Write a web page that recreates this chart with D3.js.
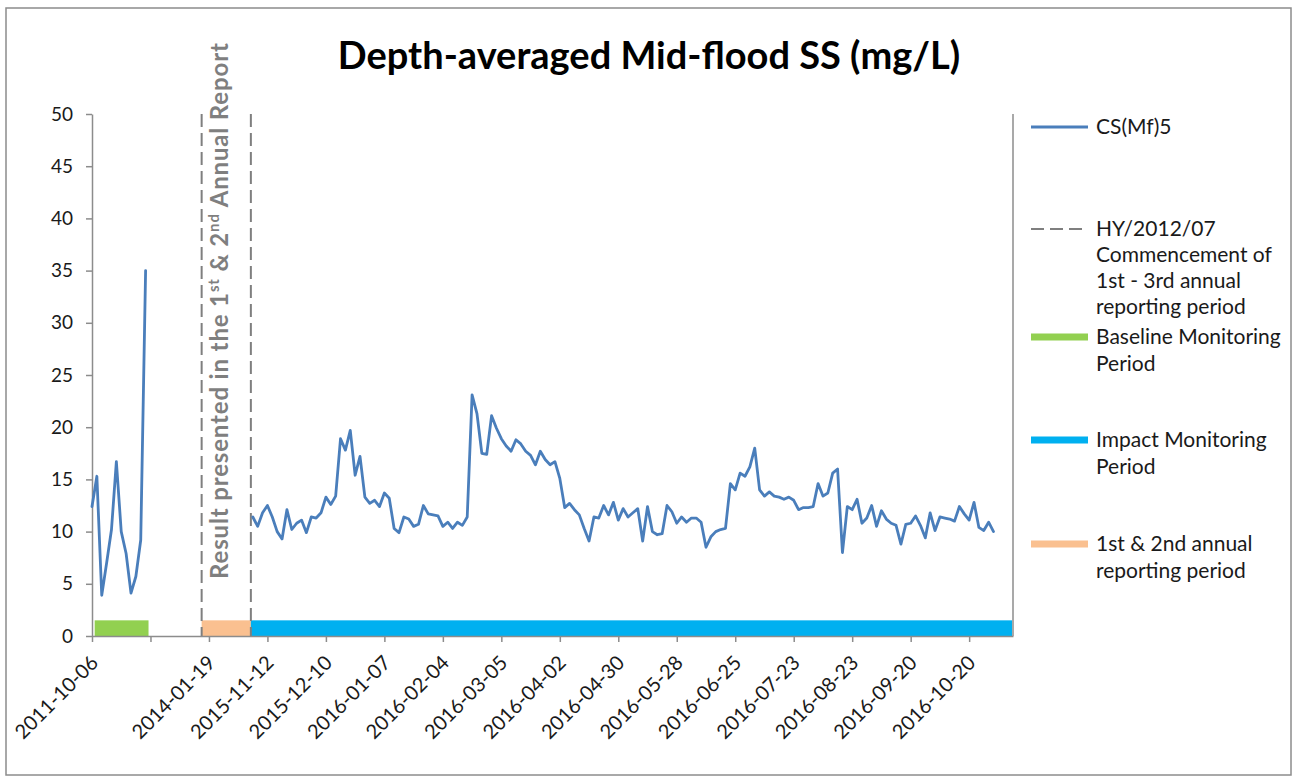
<!DOCTYPE html>
<html><head><meta charset="utf-8">
<script src="https://cdn.jsdelivr.net/npm/d3@7/dist/d3.min.js"></script>
<style>
html,body{margin:0;padding:0;background:#fff;}
svg{display:block;font-family:Lato,"Open Sans",sans-serif;}
</style></head><body>
<svg id="chart" width="1295" height="780"></svg>
<script>
// ---------------- DATA ----------------
const chartTitle = "Depth-averaged Mid-flood SS (mg/L)";
const seriesName = "CS(Mf)5";
// baseline monitoring samples (category index 0..11)
const baselineStart = 0;
const baselineValues = [12.4, 15.3, 3.9, 7.0, 10.2, 16.7, 10.0, 7.9, 4.1, 5.7, 9.2, 35.0];
// impact monitoring samples (category index 33..185)
const impactStart = 33;
const impactValues = [
  11.4, 10.5, 11.8, 12.5, 11.4, 10.0, 9.3, 12.1, 10.2, 10.8, 11.1, 9.9, 11.4, 11.3, 11.8, 13.3, 12.6, 13.4, 18.9, 17.8,
  19.7, 15.4, 17.2, 13.3, 12.7, 13.0, 12.4, 13.7, 13.2, 10.3, 9.9, 11.4, 11.2, 10.5, 10.7, 12.5, 11.7, 11.6, 11.5, 10.5,
  10.9, 10.3, 10.9, 10.6, 11.4, 23.1, 21.3, 17.5, 17.4, 21.1, 19.9, 18.9,
  18.2, 17.7, 18.8, 18.4, 17.7, 17.3, 16.4, 17.7, 16.9, 16.4, 16.7, 15.1, 12.3, 12.7, 12.1, 11.6, 10.3, 9.1, 11.4, 11.3,
  12.5, 11.6, 12.8, 11.1, 12.2, 11.4, 11.8, 12.2, 9.1, 12.4, 10.0, 9.7, 9.8, 12.5, 11.9, 10.8, 11.4, 10.9, 11.3, 11.3,
  10.9, 8.5, 9.5,
  10.0, 10.2, 10.3, 14.6, 14.0, 15.6, 15.3, 16.2, 18.0, 14.0, 13.4, 13.8, 13.4, 13.3, 13.1, 13.3, 13.0, 12.1, 12.3, 12.3,
  12.4, 14.6, 13.4, 13.7, 15.6, 16.0, 8.0, 12.4, 12.1, 13.1, 10.8,
  11.3, 12.5, 10.5, 12.0, 11.2, 10.8, 10.6, 8.8, 10.7, 10.8, 11.5, 10.6, 9.4, 11.8, 10.1, 11.4, 11.3, 11.2, 11.0, 12.4,
  11.7, 11.1, 12.8, 10.4, 10.1, 10.9, 10.0
];
const categoryCount = 189;
const tickIndex = [0, 12, 24, 36, 48, 60, 72, 84, 96, 108, 120, 132, 144, 156, 168, 180];
const tickLabels = ["2011-10-06", "", "2014-01-19", "2015-11-12", "2015-12-10", "2016-01-07", "2016-02-04", "2016-03-05",
  "2016-04-02", "2016-04-30", "2016-05-28", "2016-06-25", "2016-07-23", "2016-08-23", "2016-09-20", "2016-10-20"];
const yTicks = [0, 5, 10, 15, 20, 25, 30, 35, 40, 45, 50];
const yMax = 50;
// period bars (category positions) and their height in mg/L
const periodKeys = ["baseline", "annual12", "impact"];
const periodFrom = [0.55, 22.5, 32.6];
const periodTo = [11.6, 32.6, 188.8];
const periodLevel = 1.5;
// HY/2012/07 commencement markers (category positions)
const markerPositions = [22.5, 32.6];
const legendLabels = [
  ["CS(Mf)5"],
  ["HY/2012/07", "Commencement of", "1st - 3rd annual", "reporting period"],
  ["Baseline Monitoring", "Period"],
  ["Impact Monitoring", "Period"],
  ["1st & 2nd annual", "reporting period"]
];
const legendKeys = ["series", "marker", "baseline", "impact", "annual12"];

// ---------------- STYLE ----------------
const colors = {series: "#4a7ebb", marker: "#7f7f7f", baseline: "#92d050", impact: "#00b0f0", annual12: "#fac090"};
const axisColor = "#8c8c8c";
const textColor = "#1a1a1a";

// ---------------- LAYOUT ----------------
const svg = d3.select("#chart");
const plot = {left: 92, right: 1013, top: 114, bottom: 636};
const x = d3.scaleLinear().domain([0, categoryCount]).range([plot.left, plot.right]);
const y = d3.scaleLinear().domain([0, yMax]).range([plot.bottom, plot.top]);

// outer border
svg.append("rect").attr("x", 6).attr("y", 8).attr("width", 1285).attr("height", 767)
  .attr("fill", "none").attr("stroke", axisColor).attr("stroke-width", 1.5);

// title
svg.append("text").attr("x", 649).attr("y", 69).attr("text-anchor", "middle")
  .attr("font-size", 38).attr("font-weight", "bold").attr("fill", "#000").text(chartTitle);

// period bars
svg.append("g").selectAll("rect").data(periodKeys).join("rect")
  .attr("x", (d, i) => x(periodFrom[i]))
  .attr("width", (d, i) => x(periodTo[i]) - x(periodFrom[i]))
  .attr("y", y(periodLevel))
  .attr("height", y(0) - y(periodLevel))
  .attr("fill", d => colors[d]);

// dashed markers
svg.append("g").selectAll("line").data(markerPositions).join("line")
  .attr("x1", d => x(d)).attr("x2", d => x(d))
  .attr("y1", y(yMax)).attr("y2", y(0))
  .attr("stroke", colors.marker).attr("stroke-width", 2).attr("stroke-dasharray", "13,6");

// annotation
const ann = svg.append("text").attr("transform", "translate(228,579) rotate(-90)")
  .attr("font-size", 24).attr("font-weight", "bold").attr("letter-spacing", 0.85).attr("fill", "#7f7f7f");
ann.append("tspan").text("Result presented in the 1");
ann.append("tspan").attr("font-size", 15).attr("dy", -9).text("st");
ann.append("tspan").attr("dy", 9).text(" & 2");
ann.append("tspan").attr("font-size", 15).attr("dy", -9).text("nd");
ann.append("tspan").attr("dy", 9).text(" Annual Report");

// axes
const yAxis = svg.append("g").attr("transform", `translate(${plot.left},0)`)
  .call(d3.axisLeft(y).tickValues(yTicks).tickSize(6).tickSizeOuter(0).tickPadding(13));
const xAxis = svg.append("g").attr("transform", `translate(0,${plot.bottom})`)
  .call(d3.axisBottom(x).tickValues(tickIndex).tickSize(6).tickSizeOuter(0)
    .tickFormat((d, i) => tickLabels[i]));
[yAxis, xAxis].forEach(g => {
  g.selectAll("path, line").attr("stroke", axisColor).attr("stroke-width", 1.5);
  g.selectAll("text").attr("fill", textColor).attr("font-family", "Lato").attr("font-size", 19);
});
xAxis.selectAll("text").attr("y", 0).attr("dy", 0).attr("text-anchor", "end").attr("font-size", 20)
  .attr("transform", "translate(7,28) rotate(-45)");
// right plot border
svg.append("line").attr("x1", plot.right).attr("x2", plot.right).attr("y1", y(yMax)).attr("y2", y(0))
  .attr("stroke", axisColor).attr("stroke-width", 1.5);

// series lines
const line = d3.line().x(d => x(d.i)).y(d => y(d.v));
[[baselineStart, baselineValues], [impactStart, impactValues]].forEach(([s, vals]) => {
  svg.append("path").datum(vals.map((v, k) => ({i: s + k, v})))
    .attr("d", line).attr("fill", "none").attr("stroke", colors.series)
    .attr("stroke-width", 2.8).attr("stroke-linejoin", "round").attr("stroke-linecap", "round");
});

// legend
const legendY = [127, 229, 337, 440, 544];
const legendLineGap = [27, 26, 27, 27, 27];
const lg = svg.append("g");
legendKeys.forEach((k, i) => {
  const ly = legendY[i];
  const ln = lg.append("line").attr("x1", 1031).attr("x2", 1088).attr("y1", ly).attr("y2", ly)
    .attr("stroke", colors[k]);
  if (k === "series") ln.attr("stroke-width", 2.8);
  else if (k === "marker") ln.attr("stroke-width", 2).attr("stroke-dasharray", "13,6");
  else ln.attr("stroke-width", 7);
  const t = lg.append("text").attr("x", 1096).attr("y", ly).attr("font-size", 21).attr("fill", textColor);
  legendLabels[i].forEach((s, j) => {
    t.append("tspan").attr("x", 1096).attr("dy", j === 0 ? "0.35em" : legendLineGap[i]).text(s);
  });
});
</script>
</body></html>
